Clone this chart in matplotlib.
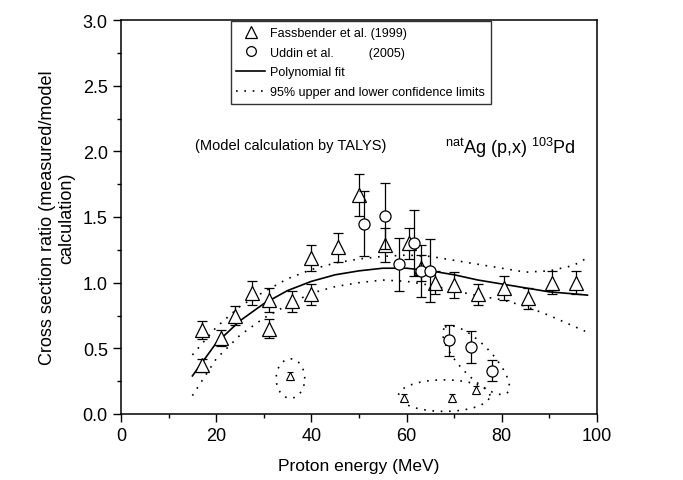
import numpy as np
import matplotlib
matplotlib.use("Agg")
import matplotlib.pyplot as plt
from matplotlib.lines import Line2D
from matplotlib.ticker import MultipleLocator

plt.rcParams['font.family'] = ['Liberation Sans', 'DejaVu Sans']
plt.rcParams['mathtext.fontset'] = 'custom'
plt.rcParams['mathtext.rm'] = 'Liberation Sans'

# Fassbender et al. (1999)
fass_x = [17, 17, 21, 24, 27.5, 31, 31, 36, 40, 40, 45.5, 50, 55.5, 60.5, 63, 66, 70, 75, 80.5, 85.5, 90.5, 95.5]
fass_y = [0.37, 0.64, 0.58, 0.75, 0.92, 0.87, 0.65, 0.86, 1.19, 0.91, 1.27, 1.67, 1.29, 1.30, 1.11, 1.00, 0.98, 0.91, 0.96, 0.88, 1.00, 1.00]
fass_err = [0.05, 0.07, 0.06, 0.07, 0.09, 0.09, 0.07, 0.08, 0.10, 0.08, 0.11, 0.16, 0.13, 0.12, 0.10, 0.09, 0.10, 0.08, 0.09, 0.08, 0.09, 0.09]

# Fassbender points far below the fit (circled)
out_x = [35.5, 59.5, 69.5, 74.5]
out_y = [0.29, 0.12, 0.12, 0.18]
out_err = [0.03, 0.03, 0.03, 0.03]

# Uddin et al. (2005)
udd_x = [51, 55.5, 58.5, 61.5, 63, 65, 69, 73.5, 78]
udd_y = [1.45, 1.51, 1.14, 1.30, 1.09, 1.09, 0.56, 0.51, 0.33]
udd_err = [0.25, 0.25, 0.20, 0.25, 0.20, 0.24, 0.12, 0.12, 0.08]

# polynomial fit and 95% limits
fit_x = [15, 20, 25, 30, 35, 40, 45, 50, 55, 60, 65, 70, 75, 80, 85, 90, 95, 98]
fit_y = [0.29, 0.54, 0.71, 0.84, 0.94, 1.01, 1.06, 1.09, 1.11, 1.11, 1.09, 1.06, 1.02, 0.99, 0.96, 0.93, 0.915, 0.905]
up_x = [15, 20, 25, 30, 35, 40, 45, 50, 55, 60, 65, 70, 75, 80, 85, 90, 95, 97.5]
up_y = [0.45, 0.66, 0.82, 0.93, 1.03, 1.10, 1.15, 1.18, 1.20, 1.21, 1.20, 1.17, 1.14, 1.11, 1.08, 1.09, 1.13, 1.18]
lo_x = [15, 20, 25, 30, 35, 40, 45, 50, 55, 60, 65, 70, 75, 80, 85, 90, 95, 97.5]
lo_y = [0.14, 0.42, 0.60, 0.73, 0.83, 0.92, 0.97, 1.00, 1.02, 1.01, 0.98, 0.94, 0.90, 0.87, 0.82, 0.75, 0.67, 0.63]

# dotted rings: centre x, centre y, half-axis vector 1, half-axis vector 2
rings = [
    (35.6, 0.27, (3.0, 0.0), (0.0, 0.15)),
    (67.9, 0.14, (9.6, 0.0), (0.0, 0.12)),
    (74.6, 0.41, (-6.5, 0.25), (2.6, 0.078)),
]

dots = (0, (1, 4))

fig = plt.figure(figsize=(6.83, 4.81), dpi=100)
ax = fig.add_axes([121/683, 66/481, 476/683, 394/481])

ax.plot(fit_x, fit_y, color='black', lw=1.2)
ax.plot(up_x, up_y, color='black', lw=1.2, ls=dots)
ax.plot(lo_x, lo_y, color='black', lw=1.2, ls=dots)

t = np.linspace(0, 2*np.pi, 80)
for cx, cy, a, b in rings:
    ex = cx + a[0]*np.cos(t) + b[0]*np.sin(t)
    ey = cy + a[1]*np.cos(t) + b[1]*np.sin(t)
    ax.plot(ex, ey, color='black', lw=1.2, ls=dots)

ax.errorbar(fass_x, fass_y, yerr=fass_err, fmt='^', ms=10, mfc='white', mec='black',
            mew=0.9, ecolor='black', elinewidth=0.9, capsize=3.5, capthick=0.9, zorder=3)
ax.errorbar(out_x, out_y, yerr=out_err, fmt='^', ms=6, mfc='white', mec='black',
            mew=0.8, ecolor='black', elinewidth=0.8, capsize=2, capthick=0.8, zorder=3)
ax.errorbar(udd_x, udd_y, yerr=udd_err, fmt='o', ms=8, mfc='white', mec='black',
            mew=0.9, ecolor='black', elinewidth=0.9, capsize=3.5, capthick=0.9, zorder=4)

ax.set_xlim(0, 100)
ax.set_ylim(0, 3.0)
ax.xaxis.set_major_locator(MultipleLocator(20))
ax.xaxis.set_minor_locator(MultipleLocator(10))
ax.yaxis.set_major_locator(MultipleLocator(0.5))
ax.yaxis.set_minor_locator(MultipleLocator(0.25))
ax.tick_params(which='both', direction='out', top=False, right=False, width=1, labelsize=13)
ax.tick_params(which='major', length=6)
ax.tick_params(which='minor', length=3)
for s in ax.spines.values():
    s.set_linewidth(1.1)

ax.set_xlabel('Proton energy (MeV)', fontsize=12.5, labelpad=10)
ax.set_ylabel('Cross section ratio (measured/model\ncalculation)', fontsize=13, labelpad=5)

ax.text(35.7, 2.05, '(Model calculation by TALYS)', fontsize=10.5, ha='center', va='center')
ax.text(68, 2.03, r'$^{\rm nat}$Ag (p,x) $^{103}$Pd', fontsize=13, ha='left', va='center')

handles = [
    Line2D([], [], ls='none', marker='^', ms=8, mfc='white', mec='black', mew=0.9),
    Line2D([], [], ls='none', marker='o', ms=7, mfc='white', mec='black', mew=0.9),
    Line2D([], [], color='black', lw=1.2),
    Line2D([], [], color='black', lw=1.2, ls=dots),
]
labels = ['Fassbender et al. (1999)', 'Uddin et al.          (2005)',
          'Polynomial fit', '95% upper and lower confidence limits']
leg = ax.legend(handles, labels, loc='upper left', bbox_to_anchor=(0.228, 1.0),
                fontsize=9, frameon=True, fancybox=False, edgecolor='black',
                handlelength=2.3, handletextpad=0.4, labelspacing=0.62, borderpad=0.45,
                borderaxespad=0.1)
leg.get_frame().set_linewidth(1.0)

fig.savefig('out.png', dpi=100)
